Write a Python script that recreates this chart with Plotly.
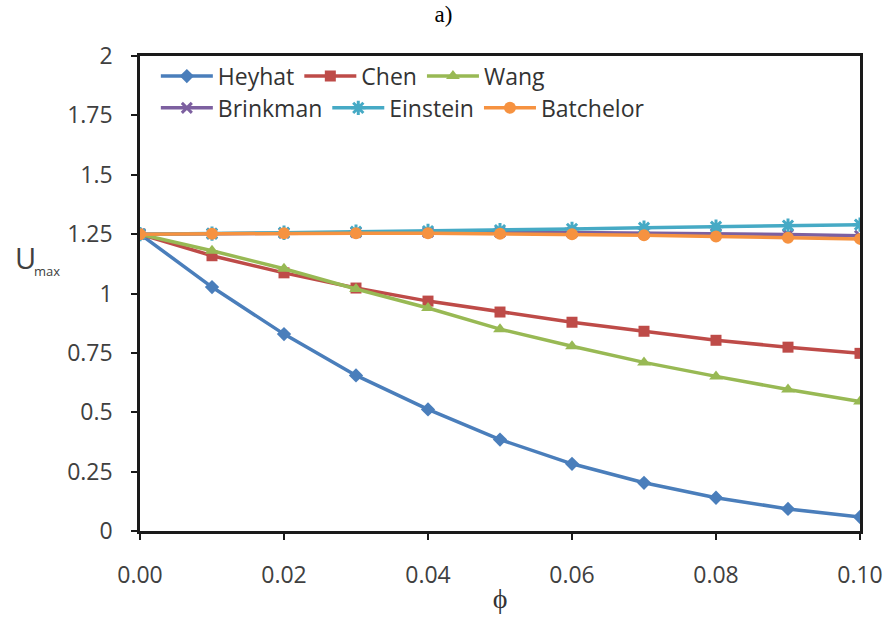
import plotly.graph_objects as go

# Volume fraction of nanoparticles
phi = [0.00, 0.01, 0.02, 0.03, 0.04, 0.05, 0.06, 0.07, 0.08, 0.09, 0.10]

# Maximum velocity for each viscosity model
heyhat = [1.25, 1.027, 0.829, 0.655, 0.512, 0.385, 0.283, 0.203, 0.140, 0.093, 0.059]
chen = [1.25, 1.159, 1.087, 1.023, 0.968, 0.922, 0.879, 0.841, 0.803, 0.774, 0.748]
wang = [1.25, 1.180, 1.104, 1.019, 0.939, 0.850, 0.778, 0.710, 0.651, 0.596, 0.545]
brinkman = [1.25, 1.252, 1.255, 1.257, 1.258, 1.258, 1.257, 1.255, 1.252, 1.248, 1.243]
einstein = [1.25, 1.252, 1.256, 1.260, 1.263, 1.267, 1.272, 1.277, 1.281, 1.286, 1.290]
batchelor = [1.25, 1.252, 1.254, 1.254, 1.254, 1.252, 1.249, 1.245, 1.240, 1.235, 1.230]

y_ticks = [0, 0.25, 0.5, 0.75, 1, 1.25, 1.5, 1.75, 2]
y_tick_text = ["0", "0.25", "0.5", "0.75", "1", "1.25", "1.5", "1.75", "2"]
x_ticks = [0.00, 0.02, 0.04, 0.06, 0.08, 0.10]

series = [
    ("Heyhat", heyhat, "#4A7EBB", "diamond", 11, "legend"),
    ("Chen", chen, "#BE4B48", "square", 11, "legend"),
    ("Wang", wang, "#98B954", "triangle-up", 12, "legend"),
    ("Brinkman", brinkman, "#7D60A0", "x-thin-open", 10, "legend2"),
    ("Einstein", einstein, "#46AAC5", "asterisk-open", 12, "legend2"),
    ("Batchelor", batchelor, "#F69240", "circle", 12, "legend2"),
]

fig = go.Figure()
for name, vals, color, symbol, size, leg in series:
    open_marker = symbol.endswith("open")
    fig.add_trace(go.Scatter(
        x=phi, y=vals, name=name, mode="lines+markers",
        line=dict(color=color, width=3.5),
        marker=dict(symbol=symbol, size=size, color=color,
                    line=dict(color=color, width=3 if open_marker else 0)),
        legend=leg,
    ))

sans = "Open Sans, Liberation Sans, sans-serif"

legend_style = dict(
    orientation="h", xanchor="left", yanchor="top",
    bgcolor="rgba(0,0,0,0)", itemwidth=52,
    font=dict(family=sans, size=23, color="#333333"),
    tracegroupgap=0,
)

axis_font = dict(family=sans, size=23, color="#404040")

fig.update_layout(
    width=887, height=621,
    margin=dict(l=140, r=27, t=56, b=90),
    paper_bgcolor="white", plot_bgcolor="white",
    title=dict(text="a)", x=0.5, xanchor="center", y=0.99, yanchor="top", automargin=False,
               font=dict(family="Liberation Serif, Times New Roman, serif", size=23, color="black")),
    legend=dict(x=0.022, y=1.003, **legend_style),
    legend2=dict(x=0.022, y=0.936, **legend_style),
    xaxis=dict(
        range=[0, 0.1], tickvals=x_ticks, tickformat=".2f",
        showgrid=False, zeroline=False, automargin=False,
        showline=True, linecolor="#1a1a1a", linewidth=2.5, mirror=True,
        ticks="outside", ticklen=6, tickwidth=2, tickcolor="#1a1a1a",
        tickfont=axis_font, ticklabelstandoff=16,
        title=dict(text="ϕ", standoff=0,
                   font=dict(family="Liberation Serif, serif", size=28, color="#333333")),
    ),
    yaxis=dict(
        range=[0, 2], tickvals=y_ticks, ticktext=y_tick_text,
        showgrid=False, zeroline=False, automargin=False,
        showline=True, linecolor="#1a1a1a", linewidth=2.5, mirror=True,
        ticks="outside", ticklen=6, tickwidth=2, tickcolor="#1a1a1a",
        tickfont=axis_font, ticklabelstandoff=14,
    ),
    annotations=[
        dict(text="U", xref="paper", yref="paper",
             x=(25 - 140) / 720, y=(531 - 257) / 475, xanchor="center", yanchor="middle",
             showarrow=False, font=dict(family=sans, size=29, color="#404040")),
        dict(text="max", xref="paper", yref="paper",
             x=(47 - 140) / 720, y=(531 - 271) / 475, xanchor="center", yanchor="middle",
             showarrow=False, font=dict(family=sans, size=13, color="#404040")),
    ],
)

fig.write_html("out.html")
